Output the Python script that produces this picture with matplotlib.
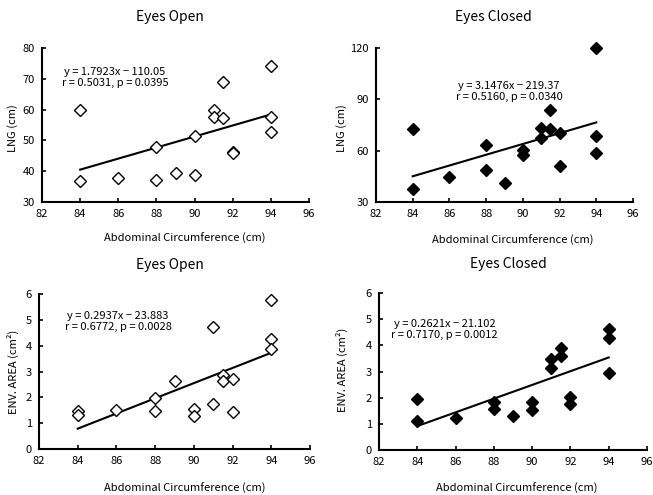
import matplotlib
matplotlib.use("Agg")
import matplotlib.pyplot as plt
import numpy as np

plt.rcParams['font.family'] = ['Noto Sans CJK JP', 'DejaVu Sans']

# ---- data ----
lng_open_x = [84, 84, 86, 88, 88, 89, 90, 90, 91, 91, 91.5, 91.5, 92, 92, 94, 94, 94]
lng_open_y = [60.0, 36.9, 37.7, 48.0, 37.2, 39.3, 51.3, 38.9, 59.8, 57.7, 69.0, 57.2, 46.2, 45.8, 74.1, 57.7, 52.7]

lng_closed_x = [84, 84, 86, 88, 88, 89, 90, 90, 91, 91, 91.5, 91.5, 92, 92, 94, 94, 94]
lng_closed_y = [72.5, 37.8, 44.7, 63.6, 48.6, 40.9, 60.6, 57.7, 73.4, 67.4, 83.9, 72.5, 70.1, 50.9, 120.0, 68.8, 58.7]

env_open_x = [84, 84, 86, 88, 88, 89, 90, 90, 91, 91, 91.5, 91.5, 92, 92, 94, 94, 94]
env_open_y = [1.47, 1.30, 1.52, 1.98, 1.48, 2.65, 1.54, 1.26, 4.74, 1.75, 2.86, 2.65, 2.72, 1.44, 5.77, 4.27, 3.87]

env_closed_x = [84, 84, 86, 88, 88, 89, 90, 90, 91, 91, 91.5, 91.5, 92, 92, 94, 94, 94]
env_closed_y = [1.93, 1.12, 1.21, 1.82, 1.56, 1.31, 1.82, 1.52, 3.49, 3.15, 3.91, 3.58, 2.03, 1.75, 4.64, 4.28, 2.95]

slopes = [1.7923, 3.1476, 0.2937, 0.2621]
intercepts = [-110.05, -219.37, -23.883, -21.102]
fit_range = [84, 94]

titles = ["Eyes Open", "Eyes Closed", "Eyes Open", "Eyes Closed"]
eq_texts = ["y = 1.7923x − 110.05\nr = 0.5031, p = 0.0395",
            "y = 3.1476x − 219.37\nr = 0.5160, p = 0.0340",
            "y = 0.2937x − 23.883\nr = 0.6772, p = 0.0028",
            "y = 0.2621x − 21.102\nr = 0.7170, p = 0.0012"]
ylabels = ["LNG (cm)", "LNG (cm)", "ENV. AREA (cm²)", "ENV. AREA (cm²)"]
xlabel = "Abdominal Circumference (cm)"
xticks = [82, 84, 86, 88, 90, 92, 94, 96]
yticks_list = [[30, 40, 50, 60, 70, 80], [30, 60, 90, 120],
               [0, 1, 2, 3, 4, 5, 6], [0, 1, 2, 3, 4, 5, 6]]

# ---- layout ----
W, H = 653, 495
fig = plt.figure(figsize=(W / 100, H / 100), dpi=100)

# axes boxes in pixels: left, right, top, bottom
boxes = [(42, 309, 48, 202), (376, 633, 48, 202),
         (39, 310, 294, 449), (379, 647, 293, 450)]
title_pos = [(170, 17), (493, 17), (170, 265), (508, 264)]
xlabel_pos = [(185, 238), (513, 240), (185, 488), (517, 488)]
ylabel_pos = [(13, 128), (342, 128), (13, 372), (342, 370)]
eq_pos = [(0.273, 0.81), (0.518, 0.72), (0.292, 0.82), (0.244, 0.77)]

xs = [lng_open_x, lng_closed_x, env_open_x, env_closed_x]
ys = [lng_open_y, lng_closed_y, env_open_y, env_closed_y]
filled = [False, True, False, True]

for i in range(4):
    l, r, t, b = boxes[i]
    ax = fig.add_axes([l / W, 1 - b / H, (r - l) / W, (b - t) / H])
    fc = 'black' if filled[i] else 'white'
    ax.plot(xs[i], ys[i], linestyle='none', marker='D', markersize=6.2,
            markerfacecolor=fc, markeredgecolor='black', markeredgewidth=1.0,
            zorder=3, clip_on=False)
    fx = np.array(fit_range, dtype=float)
    ax.plot(fx, slopes[i] * fx + intercepts[i], color='black', lw=1.5, zorder=2)
    ax.set_xlim(82, 96)
    yt = yticks_list[i]
    ax.set_ylim(yt[0], yt[-1])
    ax.set_xticks(xticks)
    ax.set_yticks(yt)
    for s in ['top', 'right']:
        ax.spines[s].set_visible(False)
    for s in ['left', 'bottom']:
        ax.spines[s].set_linewidth(1.5)
    ax.tick_params(direction='in', length=3, width=1.2, labelsize=8, pad=5)
    ax.text(eq_pos[i][0], eq_pos[i][1], eq_texts[i], transform=ax.transAxes,
            ha='center', va='center', fontsize=8, linespacing=1.1)
    fig.text(title_pos[i][0] / W, 1 - title_pos[i][1] / H, titles[i],
             ha='center', va='center', fontsize=10)
    fig.text(xlabel_pos[i][0] / W, 1 - xlabel_pos[i][1] / H, xlabel,
             ha='center', va='center', fontsize=8)
    fig.text(ylabel_pos[i][0] / W, 1 - ylabel_pos[i][1] / H, ylabels[i],
             ha='center', va='center', fontsize=8, rotation=90)

fig.savefig("out.png", dpi=100)
